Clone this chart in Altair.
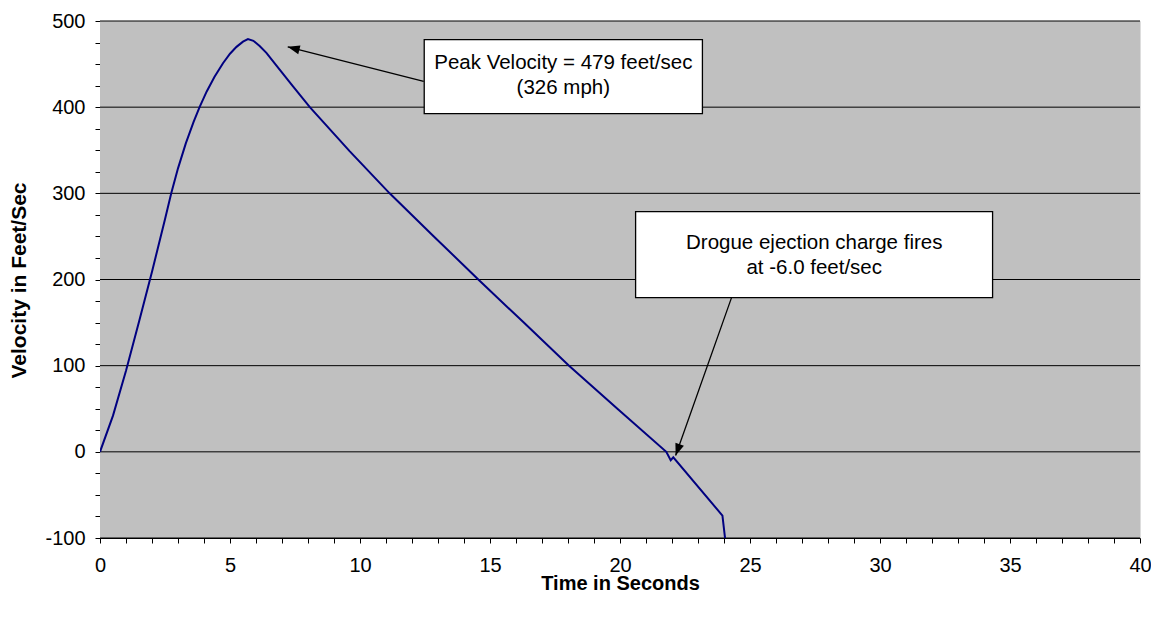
import altair as alt
import pandas as pd

# Velocity curve (seconds, feet/sec)
time_s = [0, 0.5, 1.0, 1.5, 2.0, 2.5, 2.74, 3.0, 3.3, 3.6, 3.83, 4.1, 4.4, 4.73,
          5.0, 5.25, 5.5, 5.69, 5.9, 6.14, 6.4, 6.78, 7.4, 8.07, 9.6, 11.14,
          12.84, 14.55, 16.3, 18.04, 19.9, 21.78, 21.95, 22.05, 23.94, 24.04]
velocity = [0, 42, 94, 151, 209, 270, 300, 329, 358, 383, 400, 418, 435, 451,
            462, 470, 476, 479, 477, 471, 463, 448.5, 425, 400, 349, 300,
            250, 200, 150, 100, 50, 0, -9.7, -6.3, -74, -100]

x_domain = [0, 40]
y_domain = [-100, 500]
grid_values = [-100, 0, 100, 200, 300, 400, 500]
x_tick_values = list(range(0, 41))
y_tick_values = list(range(-100, 501, 25))

# Annotation boxes
box_t1 = [12.47, 20.6]
box_t2 = [23.17, 34.33]
box_v1 = [392.4, 179.0]
box_v2 = [478.3, 278.8]

# Annotation texts
note_text = ["Peak Velocity = 479 feet/sec", "(326 mph)",
             "Drogue ejection charge fires", "at -6.0 feet/sec"]
note_t = [17.82, 17.82, 27.47, 27.47]
note_v = [451.6, 422.6, 242.7, 213.8]

# Arrows: tail -> tip
arrow_id = ["peak", "drogue"]
arrow_tail_t = [12.45, 24.29]
arrow_tail_v = [430.0, 179.0]
arrow_tip_t = [7.22, 22.14]
arrow_tip_v = [470.0, -4.3]
arrow_angle = [284.2, 199.5]

FONT = "Liberation Sans"

curve_df = pd.DataFrame({"t": time_s, "v": velocity})
grid_df = pd.DataFrame({"v": grid_values})
bg_df = pd.DataFrame({"t": [x_domain[0]], "t2": [x_domain[1]],
                      "v": [y_domain[0]], "v2": [y_domain[1]]})
box_df = pd.DataFrame({"t": box_t1, "t2": box_t2, "v": box_v1, "v2": box_v2})
note_df = pd.DataFrame({"label": note_text, "t": note_t, "v": note_v})
arrow_line_df = pd.DataFrame({
    "id": arrow_id + arrow_id,
    "t": arrow_tail_t + arrow_tip_t,
    "v": arrow_tail_v + arrow_tip_v,
    "o": [0, 0, 1, 1],
})
arrow_head_df = pd.DataFrame({"t": arrow_tip_t, "v": arrow_tip_v, "angle": arrow_angle})

xscale = alt.Scale(domain=x_domain, nice=False, zero=False)
yscale = alt.Scale(domain=y_domain, nice=False, zero=False)

xaxis = alt.Axis(
    values=x_tick_values,
    labelExpr="datum.value % 5 === 0 ? '' + datum.value : ''",
    grid=False, domainColor="black", domainWidth=1, tickColor="black", tickSize=5,
    labelFont=FONT, labelFontSize=20, labelColor="black", labelPadding=12,
    labelOverlap=False, labelFlush=False,
    title="Time in Seconds", titleFont=FONT, titleFontSize=20, titleFontWeight="bold",
    titleColor="black", titleX=520, titleY=45, titleAlign="center", titleBaseline="middle",
)
yaxis = alt.Axis(
    values=y_tick_values,
    labelExpr="datum.value % 100 === 0 ? '' + datum.value : ''",
    grid=False, domainColor="black", domainWidth=1, tickColor="black", tickSize=5,
    labelFont=FONT, labelFontSize=20, labelColor="black", labelPadding=10,
    labelOverlap=False, labelFlush=False,
    title="Velocity in Feet/Sec", titleFont=FONT, titleFontSize=21, titleFontWeight="bold",
    titleColor="black", titleX=-81, titleY=259, titleAngle=270, titleAlign="center",
    titleBaseline="middle",
)

X = alt.X("t:Q", scale=xscale, axis=xaxis)
Y = alt.Y("v:Q", scale=yscale, axis=yaxis)

background = alt.Chart(bg_df).mark_rect(fill="#C0C0C0", strokeWidth=0).encode(
    x=X, x2="t2:Q", y=Y, y2="v2:Q"
)

grid = alt.Chart(grid_df).mark_rule(color="black", strokeWidth=1).encode(y=Y)

curve = alt.Chart(curve_df).mark_line(
    color="#000080", strokeWidth=2, clip=True
).encode(x=X, y=Y, order="t:Q")

arrows = alt.Chart(arrow_line_df).mark_line(color="black", strokeWidth=1.3).encode(
    x=X, y=Y, detail="id:N", order="o:Q"
)

heads = alt.Chart(arrow_head_df).mark_point(
    shape="M0,0L-0.9,2.4L0.9,2.4Z", filled=True, color="black", size=100, opacity=1
).encode(x=X, y=Y, angle=alt.Angle("angle:Q", scale=None))

boxes = alt.Chart(box_df).mark_rect(fill="white", stroke="black", strokeWidth=1.3).encode(
    x=X, x2="t2:Q", y=Y, y2="v2:Q"
)

notes = alt.Chart(note_df).mark_text(
    font=FONT, fontSize=20.5, color="black", align="center", baseline="middle"
).encode(x=X, y=Y, text="label:N")

chart = alt.layer(background, grid, curve, arrows, heads, boxes, notes).properties(
    width=1040,
    height=517,
    autosize=alt.AutoSizeParams(type="none"),
    padding={"left": 92, "top": 13, "right": 11, "bottom": 72},
).configure_view(strokeWidth=0).configure(background="white")

chart.save("out.html", embed_options={"renderer": "svg", "actions": False})
